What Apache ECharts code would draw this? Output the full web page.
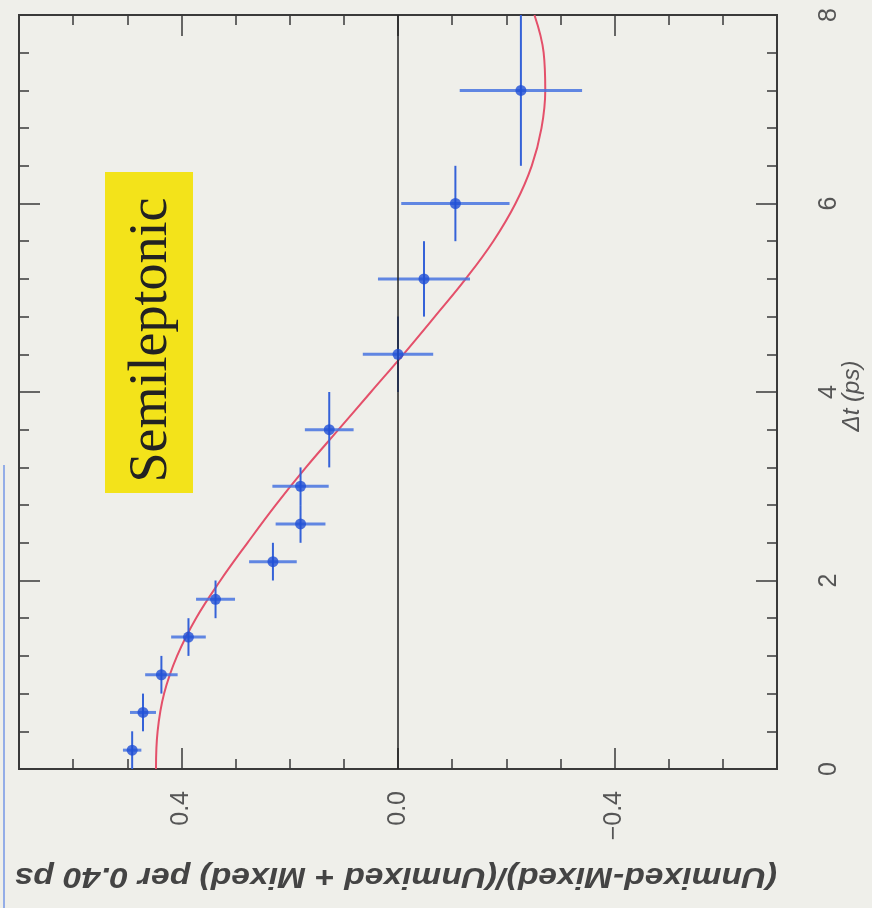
<!DOCTYPE html>
<html>
<head>
  <meta charset="utf-8">
  <title>Semileptonic mixing asymmetry</title>
  <script src="https://cdn.jsdelivr.net/npm/echarts@6/dist/echarts.min.js"></script>
  <style>
    html, body { margin: 0; padding: 0; background: #efefea; }
  </style>
</head>
<body>
  <div id="main" style="width:872px;height:908px;"></div>
  <script type="text/javascript">
    // measured points: delta t (ps), asymmetry, asymmetry error, half bin width
    var dtPoints = [0.2, 0.6, 1.0, 1.4, 1.8, 2.2, 2.6, 3.0, 3.6, 4.4, 5.2, 6.0, 7.2];
    var asymPoints = [0.491, 0.471, 0.437, 0.387, 0.337, 0.231, 0.180, 0.180, 0.127, 0.0, -0.048, -0.106, -0.227];
    var asymErrors = [0.017, 0.024, 0.030, 0.032, 0.036, 0.044, 0.046, 0.052, 0.045, 0.065, 0.085, 0.100, 0.113];
    var dtHalfWidths = [0.2, 0.2, 0.2, 0.2, 0.2, 0.2, 0.2, 0.2, 0.4, 0.4, 0.4, 0.4, 0.8];

    // fitted curve
    var fitDt = [0, 0.4, 0.8, 1.2, 1.6, 2.0, 2.4, 2.8, 3.2, 3.6, 4.0, 4.4, 4.8, 5.2, 5.6, 6.0, 6.4, 6.8, 7.2, 7.6, 8.0];
    var fitAsym = [0.447, 0.444, 0.432, 0.408, 0.373, 0.328, 0.278, 0.226, 0.170, 0.110, 0.050, -0.010, -0.068, -0.125, -0.176, -0.217, -0.247, -0.265, -0.272, -0.269, -0.252];

    // ticks
    var asymLabelTicks = [-0.4, 0, 0.4];
    var asymMinorTicks = [-0.6, -0.5, -0.4, -0.3, -0.2, -0.1, 0, 0.1, 0.2, 0.3, 0.4, 0.5, 0.6];
    var dtLabelTicks = [0, 2, 4, 6, 8];
    var dtMinorTicks = [0.4, 0.8, 1.2, 1.6, 2, 2.4, 2.8, 3.2, 3.6, 4, 4.4, 4.8, 5.2, 5.6, 6, 6.4, 6.8, 7.2, 7.6];

    var myChart = echarts.init(document.getElementById('main'));

    var frameColor = '#3a3a3a';
    var labelFont = 'Liberation Sans';

    function asymAxis(pos, ticks, len, withLabels) {
      return {
        type: 'value', position: pos, min: -0.7, max: 0.7, inverse: true,
        axisLine: { show: false, onZero: false },
        axisTick: { show: true, inside: true, length: len, customValues: ticks,
                    lineStyle: { color: frameColor, width: 1.5 } },
        axisLabel: withLabels ? {
          show: true, customValues: asymLabelTicks, rotate: 90, margin: 22,
          color: '#555', fontSize: 25, fontFamily: labelFont,
          formatter: function (v) { return v === 0 ? '0.0' : (v < 0 ? '\u2212' + (-v).toFixed(1) : v.toFixed(1)); }
        } : { show: false },
        splitLine: { show: false }
      };
    }
    function dtAxis(pos, ticks, len, withLabels) {
      return {
        type: 'value', position: pos, min: 0, max: 8,
        axisLine: { show: false, onZero: false },
        axisTick: { show: true, inside: true, length: len, customValues: ticks,
                    lineStyle: { color: frameColor, width: 1.5 } },
        axisLabel: withLabels ? {
          show: true, customValues: dtLabelTicks, rotate: 90, margin: 40,
          color: '#555', fontSize: 25, fontFamily: labelFont
        } : { show: false },
        splitLine: { show: false }
      };
    }

    var pointData = dtPoints.map(function (t, i) {
      return [asymPoints[i], t, asymErrors[i], dtHalfWidths[i]];
    });
    var fitData = fitDt.map(function (t, i) { return [fitAsym[i], t]; });

    var option = {
      backgroundColor: '#efefea',
      animation: false,
      grid: { left: 19, top: 15, right: 95, bottom: 139, show: true,
              borderColor: frameColor, borderWidth: 2, backgroundColor: 'transparent' },
      xAxis: [
        asymAxis('bottom', asymMinorTicks, 10, true),
        asymAxis('bottom', asymLabelTicks, 21, false),
        asymAxis('top', asymMinorTicks, 10, false),
        asymAxis('top', asymLabelTicks, 21, false)
      ],
      yAxis: [
        dtAxis('right', dtMinorTicks, 10, true),
        dtAxis('right', dtLabelTicks, 21, false),
        dtAxis('left', dtMinorTicks, 10, false),
        dtAxis('left', dtLabelTicks, 21, false)
      ],
      series: [
        {
          type: 'line', data: fitData, smooth: 0.4, symbol: 'none',
          xAxisIndex: 0, yAxisIndex: 0,
          lineStyle: { color: '#e4506a', width: 2 },
          z: 3,
          markLine: {
            silent: true, symbol: 'none', label: { show: false },
            lineStyle: { color: '#222', width: 1.5, type: 'solid' },
            data: [{ xAxis: 0 }]
          }
        },
        {
          type: 'custom', data: pointData, xAxisIndex: 0, yAxisIndex: 0,
          encode: { x: 0, y: 1 }, z: 4,
          renderItem: function (params, api) {
            var a = api.value(0), t = api.value(1), e = api.value(2), h = api.value(3);
            var l = api.coord([a + e, t]), r = api.coord([a - e, t]);
            var b = api.coord([a, t - h]), u = api.coord([a, t + h]);
            return {
              type: 'group',
              children: [
                { type: 'line', shape: { x1: l[0], y1: l[1], x2: r[0], y2: r[1] },
                  style: { stroke: 'rgba(70,115,225,0.85)', lineWidth: 3 } },
                { type: 'line', shape: { x1: b[0], y1: b[1], x2: u[0], y2: u[1] },
                  style: { stroke: '#3562d8', lineWidth: 2 } }
              ]
            };
          }
        },
        {
          type: 'scatter', data: pointData.map(function (d) { return [d[0], d[1]]; }),
          xAxisIndex: 0, yAxisIndex: 0, symbolSize: 11, z: 5,
          itemStyle: { color: '#1f4fd6' }
        }
      ],
      graphic: [
        { type: 'line', shape: { x1: 4, y1: 465, x2: 4, y2: 908 },
          style: { stroke: 'rgba(110,145,230,0.7)', lineWidth: 2 } },
        { type: 'rect', shape: { x: 105, y: 172, width: 88, height: 321 },
          style: { fill: '#f3e31a' }, z: 10 },
        { type: 'text', x: 152, y: 340, rotation: Math.PI / 2, z: 11,
          style: { text: 'Semileptonic', font: '54px "Liberation Serif"', fill: '#222',
                   align: 'center', verticalAlign: 'middle',
                   textAlign: 'center', textVerticalAlign: 'middle' } },
        { type: 'text', x: 396, y: 876, rotation: Math.PI, scaleX: 1.12, z: 11,
          style: { text: '(Unmixed-Mixed)/(Unmixed + Mixed) per 0.40 ps',
                   font: 'italic bold 30px "Liberation Sans"', fill: '#444',
                   align: 'center', verticalAlign: 'middle',
                   textAlign: 'center', textVerticalAlign: 'middle' } },
        { type: 'text', x: 852, y: 396, rotation: Math.PI / 2, z: 11,
          style: { text: '\u0394t (ps)', font: 'italic 24px "Liberation Sans"', fill: '#555',
                   align: 'center', verticalAlign: 'middle',
                   textAlign: 'center', textVerticalAlign: 'middle' } }
      ]
    };

    myChart.setOption(option);
  </script>
</body>
</html>
